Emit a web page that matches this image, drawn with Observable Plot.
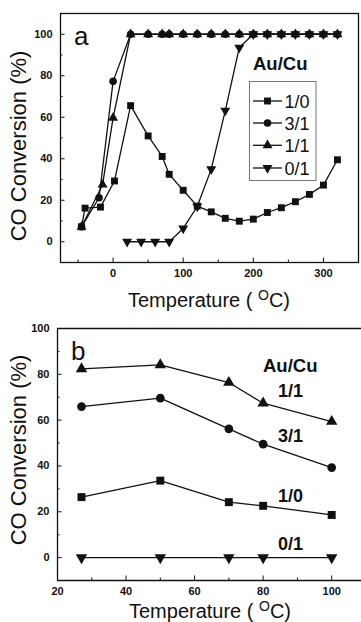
<!DOCTYPE html>
<html><head><meta charset="utf-8">
<script src="https://cdn.jsdelivr.net/npm/d3@7"></script>
<script src="https://cdn.jsdelivr.net/npm/@observablehq/plot@0.6"></script>
<style>
body{margin:0;background:#fff;}
#wrap{position:relative;width:361px;height:622px;overflow:hidden;font-family:"Liberation Sans",Arial,sans-serif;}
#wrap svg{position:absolute;left:0;}
</style></head><body><div id="wrap"></div>
<script>
// ---------- Panel a data ----------
const seriesNames = ["1/0", "3/1", "1/1", "0/1"];
const aTemp10 = [-45, -40, -18, 2, 25, 50, 70, 80, 100, 120, 140, 160, 180, 200, 220, 240, 260, 280, 300, 320];
const aConv10 = [7.2, 16.2, 16.7, 29.3, 65.6, 51, 41.1, 32.5, 24.8, 17.2, 14.4, 11.3, 9.9, 10.9, 14.1, 16.4, 19.3, 22.8, 27.3, 39.5];
const aTemp31 = [-45, -20, 0, 25, 50, 70, 80, 100, 120, 140, 160, 180, 200, 220, 240, 260, 280, 300, 320];
const aConv31 = [7.2, 21.2, 77.3, 100, 100, 100, 100, 100, 100, 100, 100, 100, 100, 100, 100, 100, 100, 100, 100];
const aTemp11 = [-45, -15, 0, 25, 50, 70, 80, 100, 120, 140, 160, 180, 200, 220, 240, 260, 280, 300, 320];
const aConv11 = [7.2, 27.5, 59.7, 100, 100, 100, 100, 100, 100, 100, 100, 100, 100, 100, 100, 100, 100, 100, 100];
const aTemp01 = [20, 40, 60, 80, 100, 120, 140, 160, 180, 200, 220, 240, 260, 280, 300, 320];
const aConv01 = [0, 0, 0, 0, 6.4, 17, 35, 63.2, 93.6, 100, 100, 100, 100, 100, 100, 100];
const aXDomain = [-75, 350];
const aYDomain = [-10, 110];
const aXTicks = [0, 100, 200, 300];
const aXMinor = [-50, 50, 150, 250];
const aYTicks = [0, 20, 40, 60, 80, 100];
const aYMinor = [10, 30, 50, 70, 90];

// ---------- Panel b data ----------
const bTemp = [27, 50, 70, 80, 100];
const bConv10 = [26.4, 33.6, 24.2, 22.6, 18.6];
const bConv31 = [65.9, 69.6, 56.2, 49.5, 39.3];
const bConv11 = [82.4, 84.1, 76.4, 67.4, 59.4];
const bConv01 = [0, 0, 0, 0, 0];
const bXDomain = [20, 108.7];
const bYDomain = [-10, 100];
const bXTicks = [20, 40, 60, 80, 100];
const bXMinor = [30, 50, 70, 90];
const bYTicks = [0, 20, 40, 60, 80, 100];
const bYMinor = [10, 30, 50, 70, 90];

const ink = "#111";
const font = "'Liberation Sans', Arial, sans-serif";
const symbolOf = {"1/0": "square", "3/1": "circle", "1/1": "triangle", "0/1": "triangle"};
const rotOf = {"1/0": 0, "3/1": 0, "1/1": 0, "0/1": 180};
const rOf = {"1/0": 3.9, "3/1": 3.8, "1/1": 3.7, "0/1": 3.7};

function rows(name, xs, ys) { return xs.map((x, i) => ({s: name, x, y: ys[i]})); }

const aData = [
  ...rows("1/0", aTemp10, aConv10),
  ...rows("3/1", aTemp31, aConv31),
  ...rows("1/1", aTemp11, aConv11),
  ...rows("0/1", aTemp01, aConv01)
];
const bData = [
  ...rows("1/0", bTemp, bConv10),
  ...rows("3/1", bTemp, bConv31),
  ...rows("1/1", bTemp, bConv11),
  ...rows("0/1", bTemp, bConv01)
];

function seriesMarks(data, rScale) {
  const ms = [Plot.line(data, {x: "x", y: "y", z: "s", stroke: ink, strokeWidth: 1.3})];
  for (const s of seriesNames) {
    ms.push(Plot.dot(data.filter(d => d.s === s), {
      x: "x", y: "y", symbol: symbolOf[s], rotate: rotOf[s], r: rOf[s] * rScale, fill: ink, stroke: "none"
    }));
  }
  return ms;
}

function axes(xT, xM, yT, yM) {
  return [
    Plot.axisX(xT, {tickSize: -4.5, tickPadding: 11.5, label: null, fontWeight: "bold", fontSize: 11, stroke: ink, fill: ink}),
    Plot.axisX(xM, {tickSize: -2.5, tickFormat: () => "", label: null, stroke: ink}),
    Plot.axisY(yT, {tickSize: -4.5, tickPadding: 12.5, label: null, fontWeight: "bold", fontSize: 11, stroke: ink, fill: ink}),
    Plot.axisY(yM, {tickSize: -2.5, tickFormat: () => "", label: null, stroke: ink})
  ];
}

const svgA = Plot.plot({
  width: 361, height: 312,
  marginLeft: 60, marginRight: 3, marginTop: 13, marginBottom: 50,
  x: {domain: aXDomain}, y: {domain: aYDomain},
  style: {fontFamily: font, fontSize: "11px", color: ink, background: "white", overflow: "visible"},
  marks: [
    Plot.frame({stroke: ink, strokeWidth: 1.3}),
    ...axes(aXTicks, aXMinor, aYTicks, aYMinor),
    ...seriesMarks(aData, 1)
  ]
});

const svgB = Plot.plot({
  width: 361, height: 310,
  marginLeft: 57, marginRight: 0, marginTop: 16, marginBottom: 42,
  x: {domain: bXDomain}, y: {domain: bYDomain},
  style: {fontFamily: font, fontSize: "11px", color: ink, background: "white", overflow: "visible"},
  marks: [
    Plot.ruleY([bYDomain[1]], {stroke: ink, strokeWidth: 1.3}),
    Plot.ruleY([bYDomain[0]], {stroke: ink, strokeWidth: 1.3}),
    Plot.ruleX([bXDomain[0]], {stroke: ink, strokeWidth: 1.3}),
    ...axes(bXTicks, bXMinor, bYTicks, bYMinor),
    ...seriesMarks(bData, 1.15)
  ]
});

const wrap = document.getElementById("wrap");
svgA.style.top = "0px";
svgB.style.top = "312px";
wrap.appendChild(svgA);
wrap.appendChild(svgB);

function addText(svg, {x, y, text, size, weight = "normal", anchor = "start", rotate = 0}) {
  const t = d3.select(svg).append("text")
    .attr("transform", `translate(${x},${y}) rotate(${rotate})`)
    .attr("text-anchor", anchor)
    .attr("font-family", font)
    .attr("font-size", size)
    .attr("font-weight", weight)
    .attr("fill", ink)
    .style("white-space", "pre")
    .text(text);
  return t;
}
function addTempLabel(svg, x, y) {
  const t = d3.select(svg).append("text")
    .attr("transform", `translate(${x},${y})`)
    .attr("text-anchor", "middle")
    .attr("font-family", font).attr("font-size", 20).attr("fill", ink)
    .style("white-space", "pre");
  t.append("tspan").text("Temperature ( ");
  t.append("tspan").attr("font-size", 14).attr("dy", -6.5).text("O");
  t.append("tspan").attr("dy", 6.5).text("C)");
}

// Panel a texts
addText(svgA, {x: 74, y: 45, text: "a", size: 26});
addText(svgA, {x: 253, y: 70, text: "Au/Cu", size: 18.5, weight: "bold"});
addText(svgA, {x: 26, y: 146, text: "CO Conversion (%)", size: 22, anchor: "middle", rotate: -90});
addTempLabel(svgA, 209, 306.5);

// Panel a legend
const lg = d3.select(svgA).append("g").attr("text-anchor", "start");
lg.append("rect").attr("x", 249.5).attr("y", 81.5).attr("width", 66.5).attr("height", 99)
  .attr("fill", "white").attr("stroke", "#777").attr("stroke-width", 1);
const legendY = [101, 123, 145.3, 168];
const d3sym = {"square": d3.symbolSquare, "circle": d3.symbolCircle, "triangle": d3.symbolTriangle};
seriesNames.forEach((s, i) => {
  const y = legendY[i];
  lg.append("line").attr("x1", 253).attr("x2", 282).attr("y1", y).attr("y2", y).attr("stroke", ink).attr("stroke-width", 1.3);
  lg.append("path").attr("d", d3.symbol(d3sym[symbolOf[s]], Math.PI * rOf[s] * rOf[s])())
    .attr("transform", `translate(267.5,${y}) rotate(${rotOf[s]})`).attr("fill", ink);
  lg.append("text").attr("x", 284.5).attr("y", y + 6.5).attr("text-anchor", "start")
    .attr("font-family", font).attr("font-size", 18).attr("fill", ink).text(s);
});

// Panel b texts
addText(svgB, {x: 71, y: 48, text: "b", size: 26});
addText(svgB, {x: 263, y: 59.7, text: "Au/Cu", size: 18.5, weight: "bold"});
const bLabelY = {"1/1": 84.7, "3/1": 129.7, "1/0": 189.7, "0/1": 238};
["1/1", "3/1", "1/0", "0/1"].forEach(s => addText(svgB, {x: 278, y: bLabelY[s], text: s, size: 18, weight: "bold"}));
addText(svgB, {x: 26, y: 138, text: "CO Conversion (%)", size: 22, anchor: "middle", rotate: -90});
addTempLabel(svgB, 210, 305.5);
</script>
</body></html>
